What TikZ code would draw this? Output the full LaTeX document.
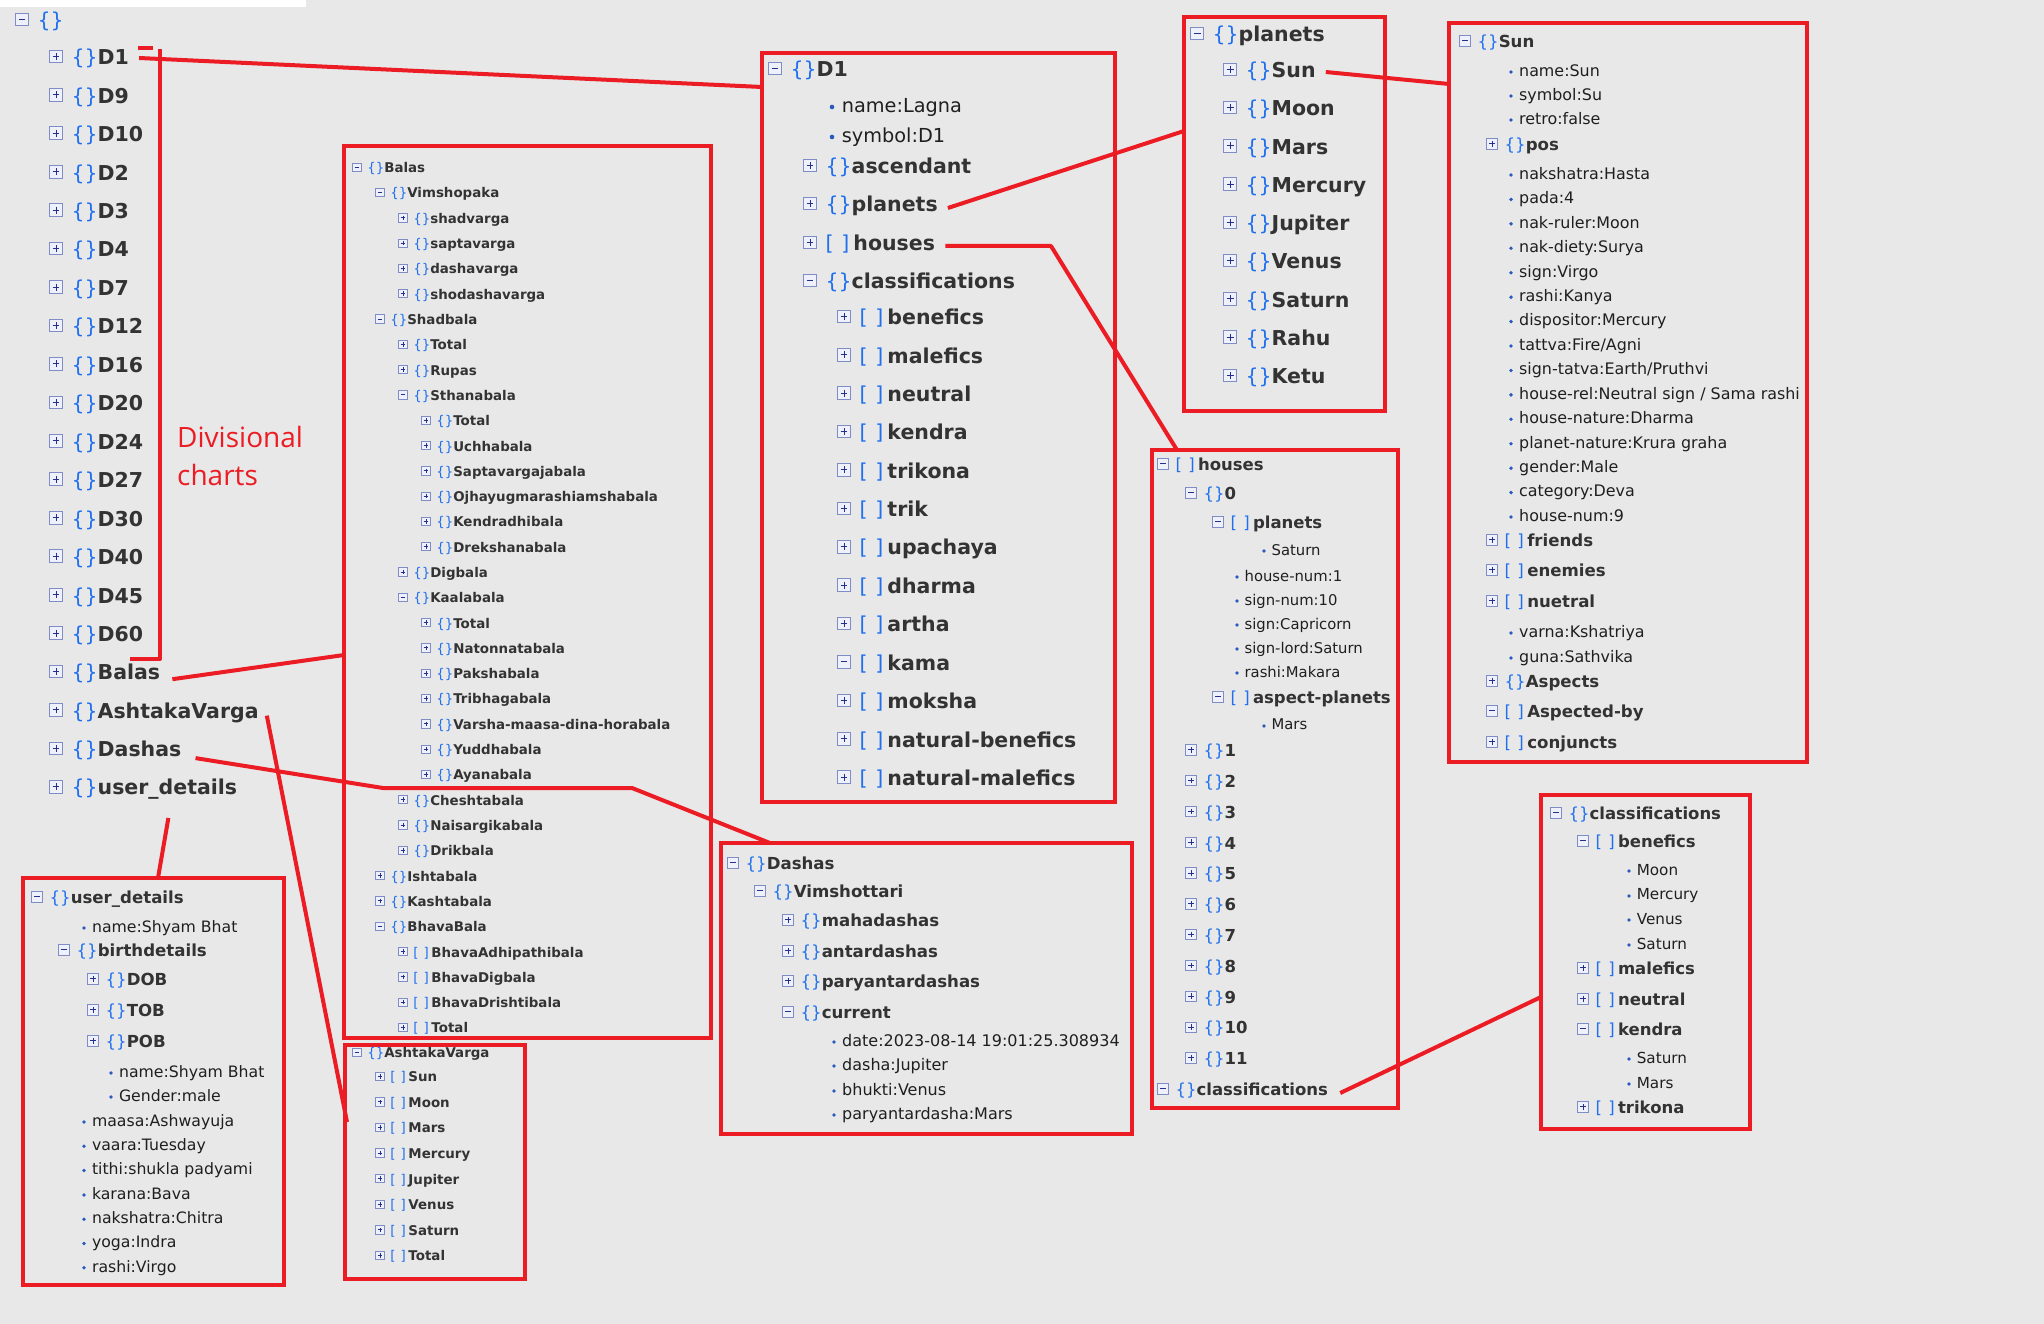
\documentclass[tikz,border=0pt]{standalone}
\usepackage{fontspec}
\setmainfont{DejaVu Sans}
\newfontfamily\notefont{Open Sans}
\usetikzlibrary{calc,positioning}
\definecolor{bg_grey}{RGB}{232,232,232}
\definecolor{mark_red}{RGB}{236,28,36}
\definecolor{brace_blue}{RGB}{32,112,238}
\definecolor{key_dark}{RGB}{51,51,51}
\definecolor{icon_edge}{RGB}{128,140,196}
\definecolor{icon_fill}{RGB}{238,241,252}
\definecolor{icon_mark}{RGB}{36,48,140}
\definecolor{dot_blue}{RGB}{40,90,190}
\newcommand{\bsz}{20.5}
\newcommand{\rsz}{19.3}
\newcommand{\rowstrut}{\rule[-0.2em]{0pt}{0.92em}}
\newcommand{\brk}[1]{\if#1o\{\}\else[\kern.38em]\kern.2em\fi}
\tikzstyle{redbox}=[draw=mark_red,line width=4.5pt,inner sep=0pt,outer sep=0pt,anchor=north west]
\tikzstyle{link}=[draw=mark_red,line width=4pt,line join=round]
\tikzstyle{note}=[anchor=north west,align=left,inner sep=0pt,text=mark_red,
  font=\notefont\fontsize{28}{38}\selectfont]
\tikzstyle{key}=[anchor=west,inner sep=0pt,text=key_dark,font={\fontsize{\bsz}{\bsz}\selectfont\bfseries}]
\tikzstyle{val}=[anchor=west,inner sep=0pt,text=black!88,font={\fontsize{\rsz}{\rsz}\selectfont}]
\tikzstyle{leafdot}=[circle,fill=dot_blue,inner sep=0pt,minimum size={0.24*\rsz*1pt}]
\tikzstyle{pmbox}=[rectangle,draw=icon_edge,fill=icon_fill,line width=0.9pt,inner sep=0pt,
  outer sep=0pt,minimum size={0.62*\bsz*1pt}]
\tikzstyle{iminus}=[pmbox,path picture={\draw[icon_mark,line width=1pt]
  ($(path picture bounding box.center)+({-0.17*\bsz},0)$) -- ++({0.34*\bsz},0);}]
\tikzstyle{iplus}=[pmbox,path picture={\draw[icon_mark,line width=1pt]
  ($(path picture bounding box.center)+({-0.17*\bsz},0)$) -- ++({0.34*\bsz},0)
  ($(path picture bounding box.center)+(0,{-0.17*\bsz})$) -- ++(0,{0.34*\bsz});}]
% one row of the json tree: name, x of icon, y, icon, brackets, key
\newcommand{\trow}[6]{%
  \node[#4] (#1i) at (#2,{#3-0.13*\bsz}) {};
  \node[key] (#1) at ({#2+0.75*\bsz},{#3}) {\rowstrut\textcolor{brace_blue}{\mdseries#5}#6};
}
% one leaf value: name, x of dot, y, text
\newcommand{\tleaf}[4]{%
  \node[leafdot] (#1d) at (#2,{#3}) {};
  \node[val] (#1) at ({#2+0.5*\rsz},{#3}) {\rowstrut#4};
}
\begin{document}
\begin{tikzpicture}[x=1pt,y=-1pt]
\useasboundingbox (0,0) rectangle (2044,1324);
\fill[bg_grey] (0,0) rectangle (2044,1324);
\fill[white] (0,0) rectangle (306,7);

% main tree
\trow{root}{22}{22}{iminus}{\{\}}{}
\foreach \lb [count=\k from 0] in {D1,D9,D10,D2,D3,D4,D7,D12,D16,D20,D24,D27,D30,D40,D45,D60,Balas,AshtakaVarga,Dashas,user\_details}
  {\trow{lt\k}{56}{59+38.45*\k}{iplus}{\{\}}{\lb}}
\node[note] (divlbl) at (177,426) {Divisional\\charts};

% D1
\node[redbox,minimum width=353pt,minimum height=749pt] (boxD1) at (762,53) {};
\trow{d1h}{775}{71}{iminus}{\{\}}{D1}
\tleaf{d1name}{832}{107}{name:Lagna}
\tleaf{d1sym}{832}{137}{symbol:D1}
\trow{d1asc}{810}{168}{iplus}{\{\}}{ascendant}
\trow{d1pl}{810}{206}{iplus}{\{\}}{planets}
\trow{d1ho}{810}{245}{iplus}{\brk a}{houses}
\trow{d1cl}{810}{283}{iminus}{\{\}}{classifications}
\foreach \ic/\lb [count=\k from 0] in {iplus/benefics,iplus/malefics,iplus/neutral,iplus/kendra,
  iplus/trikona,iplus/trik,iplus/upachaya,iplus/dharma,iplus/artha,iminus/kama,iplus/moksha,
  iplus/natural-benefics,iplus/natural-malefics}
  {\trow{d1c\k}{844}{319+38.4*\k}{\ic}{\brk a}{\lb}}

% planets
\node[redbox,minimum width=201pt,minimum height=394pt] (boxPl) at (1184,17) {};
\trow{plh}{1197}{36}{iminus}{\{\}}{planets}
\foreach \lb [count=\k from 0] in {Sun,Moon,Mars,Mercury,Jupiter,Venus,Saturn,Rahu,Ketu}
  {\trow{pl\k}{1230}{72+38.25*\k}{iplus}{\{\}}{\lb}}

% Sun
\begin{scope}
\renewcommand{\bsz}{16.6}\renewcommand{\rsz}{15.9}
\node[redbox,minimum width=358pt,minimum height=739pt] (boxSun) at (1449,23) {};
\trow{sunh}{1465}{43}{iminus}{\{\}}{Sun}
\tleaf{sunname}{1511}{72}{name:Sun}
\tleaf{sunsym}{1511}{96}{symbol:Su}
\tleaf{sunretro}{1511}{120}{retro:false}
\trow{sunpos}{1492}{146}{iplus}{\{\}}{pos}
\foreach \v [count=\k from 0] in {nakshatra:Hasta,pada:4,nak-ruler:Moon,nak-diety:Surya,sign:Virgo,
  rashi:Kanya,dispositor:Mercury,{tattva:Fire/Agni},{sign-tatva:Earth/Pruthvi},
  {house-rel:Neutral sign / Sama rashi},house-nature:Dharma,planet-nature:Krura graha,
  gender:Male,category:Deva,house-num:9}
  {\tleaf{sunv\k}{1511}{175+24.43*\k}{\v}}
\trow{sunfr}{1492}{542}{iplus}{\brk a}{friends}
\trow{sunen}{1492}{572}{iplus}{\brk a}{enemies}
\trow{sunne}{1492}{603}{iplus}{\brk a}{nuetral}
\tleaf{sunvarna}{1511}{633}{varna:Kshatriya}
\tleaf{sunguna}{1511}{658}{guna:Sathvika}
\trow{sunasp}{1492}{683}{iplus}{\{\}}{Aspects}
\trow{sunaby}{1492}{713}{iminus}{\brk a}{Aspected-by}
\trow{sunconj}{1492}{744}{iplus}{\brk a}{conjuncts}
\end{scope}

% houses
\begin{scope}
\renewcommand{\bsz}{16.5}\renewcommand{\rsz}{14.8}
\node[redbox,minimum width=246pt,minimum height=658pt] (boxHo) at (1152,450) {};
\trow{hoh}{1163}{466}{iminus}{\brk a}{houses}
\trow{ho0}{1191}{495}{iminus}{\{\}}{0}
\trow{hopl}{1218}{524}{iminus}{\brk a}{planets}
\tleaf{hosat}{1264}{551}{Saturn}
\tleaf{hohn}{1237}{577}{house-num:1}
\tleaf{hosn}{1237}{601}{sign-num:10}
\tleaf{hosg}{1237}{625}{sign:Capricorn}
\tleaf{hosl}{1237}{649}{sign-lord:Saturn}
\tleaf{hora}{1237}{673}{rashi:Makara}
\trow{hoasp}{1218}{699}{iminus}{\brk a}{aspect-planets}
\tleaf{homars}{1264}{726}{Mars}
\foreach \k in {1,...,11}
  {\trow{ho\k}{1191}{721.2+30.8*\k}{iplus}{\{\}}{\k}}
\trow{hocl}{1163}{1091}{iminus}{\{\}}{classifications}
\end{scope}

% classifications of houses
\begin{scope}
\renewcommand{\bsz}{16.5}\renewcommand{\rsz}{15.2}
\node[redbox,minimum width=209pt,minimum height=334pt] (boxCl) at (1541,795) {};
\trow{clh}{1556}{815}{iminus}{\{\}}{classifications}
\trow{clben}{1583}{843}{iminus}{\brk a}{benefics}
\tleaf{clb1}{1629}{871}{Moon}
\tleaf{clb2}{1629}{896}{Mercury}
\tleaf{clb3}{1629}{920}{Venus}
\tleaf{clb4}{1629}{945}{Saturn}
\trow{clmal}{1583}{970}{iplus}{\brk a}{malefics}
\trow{clneu}{1583}{1001}{iplus}{\brk a}{neutral}
\trow{clken}{1583}{1031}{iminus}{\brk a}{kendra}
\tleaf{clk1}{1629}{1059}{Saturn}
\tleaf{clk2}{1629}{1084}{Mars}
\trow{cltri}{1583}{1109}{iplus}{\brk a}{trikona}
\end{scope}

% Balas
\begin{scope}
\renewcommand{\bsz}{13.4}\renewcommand{\rsz}{12.6}
\node[redbox,minimum width=367pt,minimum height=892pt] (boxBal) at (344,146) {};
\foreach \lv/\ic/\br/\lb [count=\k from 0] in {0/iminus/o/Balas,1/iminus/o/Vimshopaka,
  2/iplus/o/shadvarga,2/iplus/o/saptavarga,2/iplus/o/dashavarga,2/iplus/o/shodashavarga,
  1/iminus/o/Shadbala,2/iplus/o/Total,2/iplus/o/Rupas,2/iminus/o/Sthanabala,
  3/iplus/o/Total,3/iplus/o/Uchhabala,3/iplus/o/Saptavargajabala,3/iplus/o/Ojhayugmarashiamshabala,
  3/iplus/o/Kendradhibala,3/iplus/o/Drekshanabala,2/iplus/o/Digbala,2/iminus/o/Kaalabala,
  3/iplus/o/Total,3/iplus/o/Natonnatabala,3/iplus/o/Pakshabala,3/iplus/o/Tribhagabala,
  3/iplus/o/Varsha-maasa-dina-horabala,3/iplus/o/Yuddhabala,3/iplus/o/Ayanabala,
  2/iplus/o/Cheshtabala,2/iplus/o/Naisargikabala,2/iplus/o/Drikbala,1/iplus/o/Ishtabala,
  1/iplus/o/Kashtabala,1/iminus/o/BhavaBala,2/iplus/a/BhavaAdhipathibala,2/iplus/a/BhavaDigbala,
  2/iplus/a/BhavaDrishtibala,2/iplus/a/Total}
  {\trow{bal\k}{357+23*\lv}{169+25.3*\k}{\ic}{\brk\br}{\lb}}

% AshtakaVarga
\node[redbox,minimum width=180pt,minimum height=234pt] (boxAsh) at (345,1045) {};
\trow{avh}{357}{1054}{iminus}{\{\}}{AshtakaVarga}
\foreach \lb [count=\k from 0] in {Sun,Moon,Mars,Mercury,Jupiter,Venus,Saturn,Total}
  {\trow{av\k}{380}{1078+25.6*\k}{iplus}{\brk a}{\lb}}
\end{scope}

% Dashas
\begin{scope}
\renewcommand{\bsz}{16.6}\renewcommand{\rsz}{16}
\node[redbox,minimum width=411pt,minimum height=291pt] (boxDas) at (721,843) {};
\trow{dah}{733}{865}{iminus}{\{\}}{Dashas}
\trow{davim}{760}{893}{iminus}{\{\}}{Vimshottari}
\trow{dama}{788}{922}{iplus}{\{\}}{mahadashas}
\trow{daan}{788}{953}{iplus}{\{\}}{antardashas}
\trow{dapa}{788}{983}{iplus}{\{\}}{paryantardashas}
\trow{dacur}{788}{1014}{iminus}{\{\}}{current}
\tleaf{dadate}{834}{1042}{date:2023-08-14 19:01:25.308934}
\tleaf{dadasha}{834}{1066}{dasha:Jupiter}
\tleaf{dabhukti}{834}{1091}{bhukti:Venus}
\tleaf{dapary}{834}{1115}{paryantardasha:Mars}
\end{scope}

% user_details
\begin{scope}
\renewcommand{\bsz}{16.6}\renewcommand{\rsz}{15.7}
\node[redbox,minimum width=261pt,minimum height=407pt] (boxUsr) at (23,878) {};
\trow{udh}{37}{899}{iminus}{\{\}}{user\_details}
\tleaf{udname}{84}{928}{name:Shyam Bhat}
\trow{udbirth}{64}{952}{iminus}{\{\}}{birthdetails}
\trow{uddob}{93}{981}{iplus}{\{\}}{DOB}
\trow{udtob}{93}{1012}{iplus}{\{\}}{TOB}
\trow{udpob}{93}{1043}{iplus}{\{\}}{POB}
\tleaf{udbname}{111}{1073}{name:Shyam Bhat}
\tleaf{udgender}{111}{1097}{Gender:male}
\foreach \v [count=\k from 0] in {maasa:Ashwayuja,vaara:Tuesday,tithi:shukla padyami,karana:Bava,
  nakshatra:Chitra,yoga:Indra,rashi:Virgo}
  {\tleaf{udv\k}{84}{1122+24.3*\k}{\v}}
\end{scope}

% red marks
\coordinate (brtop) at (160,49);
\coordinate (brbot) at (160,659);
\draw[link] (138,48) -- ++(15,0);
\draw[link] (brtop) -- (brbot) -- ++(-30,0);
\coordinate (dasbend1) at (383,788);
\coordinate (dasbend2) at (632,788);
\coordinate (hobend) at (1051,246);
\draw[link] ($(lt0.east)+(10,-1)$) -- ($(boxD1.north west)+(0,34)$);
\draw[link] ($(lt16.east)+(12,5)$) -- ($(boxBal.north west)+(0,509)$);
\draw[link] ($(lt17.east)+(8,3)$) -- ($(boxAsh.north west)+(2,77)$);
\draw[link] ($(lt18.east)+(14,7)$) -- (dasbend1) -- (dasbend2) -- ($(boxDas.north west)+(49,0)$);
\draw[link] ($(lt19.south)+(14,18)$) -- ($(boxUsr.north west)+(135,0)$);
\draw[link] ($(d1pl.east)+(10,2)$) -- ($(boxPl.north west)+(0,114)$);
\draw[link] ($(d1ho.east)+(10,1)$) -- (hobend) -- ($(boxHo.north west)+(25,0)$);
\draw[link] ($(pl0.east)+(10,0)$) -- ($(boxSun.north west)+(0,61)$);
\draw[link] ($(hocl.east)+(12,2)$) -- ($(boxCl.north west)+(0,202)$);
\end{tikzpicture}
\end{document}
